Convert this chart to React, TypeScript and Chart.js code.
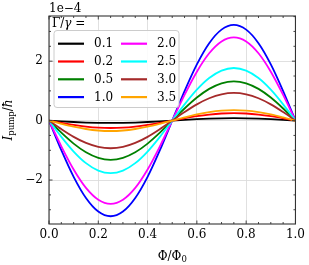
import React, { useEffect, useRef } from 'react';
import { Chart, registerables } from 'chart.js';
Chart.register(...registerables);

const SERIF = '"DejaVu Serif", serif';

// Flux Φ/Φ0
const PHI = [0, 0.05, 0.1, 0.15, 0.2, 0.25, 0.3, 0.35, 0.4, 0.45, 0.5, 0.55, 0.6, 0.65, 0.7, 0.75, 0.8, 0.85, 0.9, 0.95, 1.0];

// I_pump/ħ in units of 1e-4
const G01 = [0, -0.025, -0.047, -0.065, -0.076, -0.08, -0.076, -0.065, -0.047, -0.025, 0, 0.025, 0.047, 0.065, 0.076, 0.08, 0.076, 0.065, 0.047, 0.025, 0];
const G02 = [0, -0.077, -0.147, -0.202, -0.238, -0.25, -0.238, -0.202, -0.147, -0.077, 0, 0.077, 0.147, 0.202, 0.238, 0.25, 0.238, 0.202, 0.147, 0.077, 0];
const G05 = [0, -0.408, -0.776, -1.068, -1.255, -1.32, -1.255, -1.068, -0.776, -0.408, 0, 0.408, 0.776, 1.068, 1.255, 1.32, 1.255, 1.068, 0.776, 0.408, 0];
const G10 = [0, -0.995, -1.893, -2.605, -3.062, -3.22, -3.062, -2.605, -1.893, -0.995, 0, 0.995, 1.893, 2.605, 3.062, 3.22, 3.062, 2.605, 1.893, 0.995, 0];
const G20 = [0, -0.865, -1.646, -2.265, -2.663, -2.8, -2.663, -2.265, -1.646, -0.865, 0, 0.865, 1.646, 2.265, 2.663, 2.8, 2.663, 2.265, 1.646, 0.865, 0];
const G25 = [0, -0.547, -1.041, -1.432, -1.683, -1.77, -1.683, -1.432, -1.041, -0.547, 0, 0.547, 1.041, 1.432, 1.683, 1.77, 1.683, 1.432, 1.041, 0.547, 0];
const G30 = [0, -0.287, -0.547, -0.752, -0.884, -0.93, -0.884, -0.752, -0.547, -0.287, 0, 0.287, 0.547, 0.752, 0.884, 0.93, 0.884, 0.752, 0.547, 0.287, 0];
const G35 = [0, -0.108, -0.206, -0.283, -0.333, -0.35, -0.333, -0.283, -0.206, -0.108, 0, 0.108, 0.206, 0.283, 0.333, 0.35, 0.333, 0.283, 0.206, 0.108, 0];

const SERIES = [G01, G02, G05, G10, G20, G25, G30, G35];
const RATIOS = ['0.1', '0.2', '0.5', '1.0', '2.0', '2.5', '3.0', '3.5'];
const COLORS = ['#000000', '#ff0000', '#008000', '#0000ff', '#ff00ff', '#00ffff', '#a52a2a', '#ffa500'];

const Y_TICKS = [-2, 0, 2];
const X_TICKS = [0, 0.2, 0.4, 0.6, 0.8, 1.0];
const Y_MIN = -3.48;
const Y_MAX = 3.52;

type Seg = { t: string; f: string; dy?: number };

function drawSegs(ctx: CanvasRenderingContext2D, segs: Seg[], x: number, y: number, align: 'left' | 'center') {
  let w = 0;
  for (const s of segs) { ctx.font = s.f; w += ctx.measureText(s.t).width; }
  let cx = align === 'center' ? x - w / 2 : x;
  ctx.textAlign = 'left';
  ctx.textBaseline = 'alphabetic';
  for (const s of segs) {
    ctx.font = s.f;
    ctx.fillText(s.t, cx, y + (s.dy || 0));
    cx += ctx.measureText(s.t).width;
  }
}

export default function App() {
  const ref = useRef<HTMLCanvasElement>(null);
  useEffect(() => {
    document.body.style.margin = '0';
    const canvas = ref.current!;
    const F = (s: number, it = false) => `${it ? 'italic ' : ''}${s}px ${SERIF}`;

    const decor = {
      id: 'decor',
      afterDraw(chart: any) {
        const ctx: CanvasRenderingContext2D = chart.ctx;
        const { left, right, top, bottom } = chart.chartArea;
        const xs = chart.scales.x;
        const ys = chart.scales.y;
        ctx.save();
        // frame
        ctx.strokeStyle = '#333333';
        ctx.lineWidth = 1.1;
        ctx.strokeRect(left, top, right - left, bottom - top);
        // inward ticks
        ctx.lineWidth = 0.9;
        const tick = (v: number, len: number, axis: 'x' | 'y') => {
          ctx.beginPath();
          if (axis === 'x') {
            const p = xs.getPixelForValue(v);
            ctx.moveTo(p, bottom); ctx.lineTo(p, bottom - len);
            ctx.moveTo(p, top); ctx.lineTo(p, top + len);
          } else {
            const p = ys.getPixelForValue(v);
            ctx.moveTo(left, p); ctx.lineTo(left + len, p);
            ctx.moveTo(right, p); ctx.lineTo(right - len, p);
          }
          ctx.stroke();
        };
        for (let i = 0; i <= 20; i++) {
          const v = i / 20;
          tick(v, i % 4 === 0 ? 3.5 : 2, 'x');
        }
        for (let i = -6; i <= 7; i++) {
          const v = i / 2;
          if (v < Y_MIN || v > Y_MAX) continue;
          tick(v, i % 4 === 0 ? 3.5 : 2, 'y');
        }
        // offset text
        ctx.fillStyle = '#000';
        drawSegs(ctx, [{ t: '1e\u22124', f: F(12) }], left, 12, 'left');
        // legend title
        drawSegs(ctx, [{ t: '\u0393/', f: F(12) }, { t: '\u03b3', f: F(12, true) }, { t: ' =', f: F(12) }], 52, 26.5, 'left');
        // legend box
        const bx = 54, by = 30.5, bw = 125, bh = 77;
        ctx.beginPath();
        ctx.roundRect(bx, by, bw, bh, 3);
        ctx.fillStyle = 'rgba(255,255,255,0.85)';
        ctx.fill();
        ctx.strokeStyle = '#cccccc';
        ctx.lineWidth = 1;
        ctx.stroke();
        const ds = chart.data.datasets;
        for (let i = 0; i < ds.length; i++) {
          const col = Math.floor(i / 4);
          const row = i % 4;
          const yy = 43.7 + row * 17.8;
          const lx = col === 0 ? 58 : 121;
          ctx.strokeStyle = ds[i].borderColor;
          ctx.lineWidth = 2.2;
          ctx.beginPath();
          ctx.moveTo(lx, yy); ctx.lineTo(lx + 26, yy);
          ctx.stroke();
          ctx.fillStyle = '#000';
          ctx.font = F(12);
          ctx.textAlign = 'left';
          ctx.textBaseline = 'middle';
          ctx.fillText(ds[i].label, lx + 36, yy + 0.5);
        }
        // x label
        ctx.fillStyle = '#000';
        drawSegs(ctx, [{ t: '\u03a6/\u03a6', f: F(12) }, { t: '0', f: F(8.5), dy: 2.5 }], (left + right) / 2, 259.5, 'center');
        // y label
        ctx.translate(11.5, (top + bottom) / 2);
        ctx.rotate(-Math.PI / 2);
        drawSegs(ctx, [{ t: 'I', f: F(12, true) }, { t: 'pump', f: F(8.5), dy: 2.5 }, { t: '/', f: F(12) }, { t: '\u0127', f: F(12, true) }], 0, 0, 'center');
        ctx.restore();
      },
    };

    const chart = new Chart(canvas, {
      type: 'line',
      data: {
        datasets: SERIES.map((s, i) => ({
          label: RATIOS[i],
          data: PHI.map((x, k) => ({ x, y: s[k] })),
          borderColor: COLORS[i],
          backgroundColor: COLORS[i],
          borderWidth: 1.8,
          pointRadius: 0,
          cubicInterpolationMode: 'monotone' as const,
          order: SERIES.length - i,
        })),
      },
      options: {
        responsive: false,
        animation: false,
        devicePixelRatio: 1,
        layout: { padding: { left: 0, top: 16, right: 13, bottom: 0 } },
        plugins: { legend: { display: false }, tooltip: { enabled: false }, title: { display: false } },
        scales: {
          x: {
            type: 'linear',
            min: 0,
            max: 1,
            afterBuildTicks: (scale: any) => { scale.ticks = X_TICKS.map((v) => ({ value: v })); },
            afterFit: (scale: any) => { scale.height = 41; },
            grid: { color: '#dddddd', lineWidth: 0.9, drawTicks: false },
            border: { display: false },
            ticks: {
              padding: 4,
              color: '#000',
              font: { family: SERIF, size: 12 },
              maxRotation: 0,
              callback: (v: any) => Number(v).toFixed(1),
            },
          },
          y: {
            type: 'linear',
            min: Y_MIN,
            max: Y_MAX,
            afterBuildTicks: (scale: any) => { scale.ticks = Y_TICKS.map((v) => ({ value: v })); },
            afterFit: (scale: any) => { scale.width = 49; },
            grid: { color: '#dddddd', lineWidth: 0.9, drawTicks: false },
            border: { display: false },
            ticks: {
              padding: 6,
              color: '#000',
              font: { family: SERIF, size: 12 },
              callback: (v: any) => (Number(v) < 0 ? '\u2212' + Math.abs(Number(v)) : String(v)),
            },
          },
        },
      },
      plugins: [decor],
    });
    return () => chart.destroy();
  }, []);
  return (
    <div style={{ width: 309, height: 265 }}>
      <canvas ref={ref} width={309} height={265} style={{ display: 'block' }} />
    </div>
  );
}
